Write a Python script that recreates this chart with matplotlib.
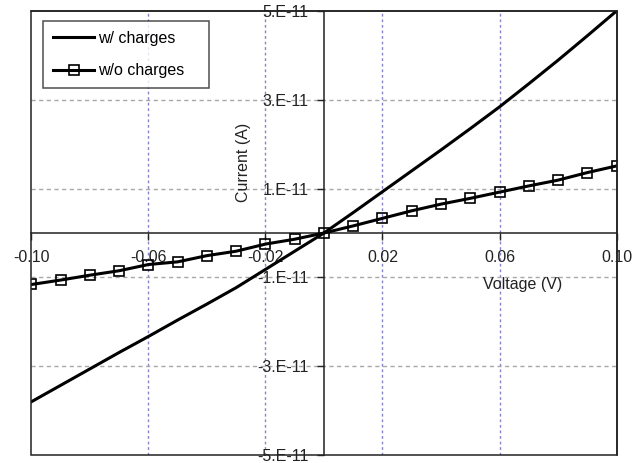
import matplotlib
matplotlib.use("Agg")
import matplotlib.pyplot as plt
from matplotlib.patches import Rectangle
from matplotlib.ticker import FixedLocator, FixedFormatter

plt.rcParams['font.family'] = ['Liberation Sans', 'DejaVu Sans']
plt.rcParams['axes.unicode_minus'] = False

# Data
voltage = [-0.10, -0.09, -0.08, -0.07, -0.06, -0.05, -0.04, -0.03, -0.02, -0.01, 0.00,
           0.01, 0.02, 0.03, 0.04, 0.05, 0.06, 0.07, 0.08, 0.09, 0.10]
current_with = [-3.80, -3.43, -3.06, -2.69, -2.33, -1.96, -1.60, -1.23, -0.82, -0.41, 0.00,
                0.46, 0.93, 1.40, 1.87, 2.35, 2.84, 3.36, 3.89, 4.44, 5.00]  # x 1e-11 A
current_without = [-1.16, -1.06, -0.95, -0.85, -0.71, -0.65, -0.51, -0.41, -0.25, -0.14, 0.00,
                   0.16, 0.33, 0.50, 0.65, 0.78, 0.92, 1.06, 1.19, 1.36, 1.51]  # x 1e-11 A
series_labels = ["w/ charges", "w/o charges"]
x_ticks = [-0.10, -0.06, -0.02, 0.02, 0.06, 0.10]
x_ticklabels = ["-0.10", "-0.06", "-0.02", "0.02", "0.06", "0.10"]
y_ticks = [-5e-11, -3e-11, -1e-11, 1e-11, 3e-11, 5e-11]
y_ticklabels = ["-5.E-11", "-3.E-11", "-1.E-11", "1.E-11", "3.E-11", "5.E-11"]

scale = 1e-11
yw = [v * scale for v in current_with]
ywo = [v * scale for v in current_without]

fig = plt.figure(figsize=(6.41, 4.63), dpi=100)
ax = fig.add_axes([0.0491, 0.0173, 0.9127, 0.959])
ax.set_xlim(-0.10, 0.10)
ax.set_ylim(-5e-11, 5e-11)

# grid
for xv in x_ticks[1:-1]:
    ax.axvline(xv, color='#8585c8', lw=1.0, ls=(0, (2, 2)), zorder=1)
for yv in y_ticks[1:-1]:
    ax.axhline(yv, color='#a8a8a8', lw=1.0, ls=(0, (3, 2.5)), zorder=1)

ax.plot(voltage, yw, color='black', lw=2.2, label=series_labels[0], zorder=3)
ax.plot(voltage, ywo, color='black', lw=2.2, marker='s', ms=6.5, mfc='none',
        mec='black', mew=1.2, label=series_labels[1], zorder=3)

# spines through zero, plus outer box
ax.spines['left'].set_position(('data', 0))
ax.spines['bottom'].set_position(('data', 0))
for s in ['left', 'bottom', 'top', 'right']:
    ax.spines[s].set_linewidth(1.1)
    ax.spines[s].set_color('#222222')
ax.add_patch(Rectangle((0, 0), 1, 1, transform=ax.transAxes, fill=False,
                       lw=1.1, ec='#222222', clip_on=False, zorder=4))

ax.xaxis.set_major_locator(FixedLocator(x_ticks))
ax.xaxis.set_major_formatter(FixedFormatter(x_ticklabels))
ax.yaxis.set_major_locator(FixedLocator(y_ticks))
ax.yaxis.set_major_formatter(FixedFormatter(y_ticklabels))
ax.tick_params(axis='x', direction='out', length=5, width=1.0, pad=7,
               labelsize=11.5, colors='#222222')
ax.tick_params(axis='y', direction='out', length=5, width=1.0, pad=6,
               labelsize=11.5, colors='#222222')
for lab in ax.get_xticklabels() + ax.get_yticklabels():
    lab.set_clip_on(False)

ax.text(-0.0275, 1.6e-11, "Current (A)", rotation=90, ha='center', va='center',
        fontsize=11.5, color='#222222')
ax.text(0.068, -1.17e-11, "Voltage (V)", ha='center', va='center',
        fontsize=11.5, color='#222222')

leg = ax.legend(loc='upper left', bbox_to_anchor=(0.0197, 0.8335, 0.284, 0.144),
                mode='expand', frameon=True,
                fancybox=False, edgecolor='#222222', fontsize=11.5,
                handlelength=2.6, handletextpad=0.25, labelspacing=1.1,
                borderpad=0.62, borderaxespad=0)
leg.get_frame().set_linewidth(1.1)

fig.savefig("out.png", dpi=100)
